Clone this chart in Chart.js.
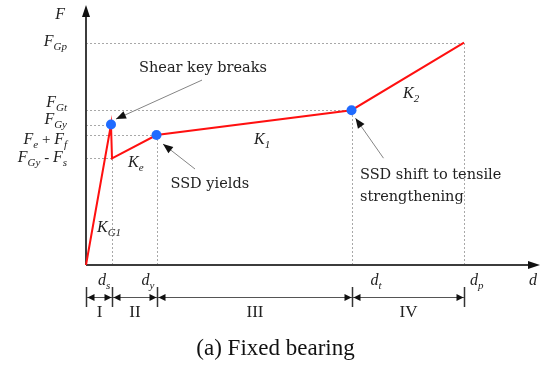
<!DOCTYPE html>
<html>
<head>
<meta charset="utf-8">
<script src="https://cdn.jsdelivr.net/npm/chart.js@4/dist/chart.umd.min.js"></script>
<style>
  html, body { margin: 0; padding: 0; background: #fff; }
  #wrap { width: 545px; height: 369px; position: relative; }
</style>
</head>
<body>
<div id="wrap"><canvas id="c"></canvas></div>
<script>
// Force–displacement path of the fixed bearing (schematic units)
const displacement = [0, 25, 26, 70.5, 265.5, 378];
const force = [0, 141.5, 107.5, 131, 156, 224];
// Characteristic states marked with dots (indices into the path)
const keyPoints = [1, 3, 4];
// Force levels on the vertical axis and the path point each belongs to
const forceLabels = ['F_Gp', 'F_Gt', 'F_Gy', 'F_e + F_f', 'F_Gy - F_s'];
const forcePoint = [5, 4, 1, 3, 2];
// Displacement levels on the horizontal axis
const dispLabels = ['d_s', 'd_y', 'd_t', 'd_p'];
const dispPoint = [2, 3, 4, 5];
// Stages between successive displacement levels
const stageLabels = ['I', 'II', 'III', 'IV'];
// Stiffness of each branch (anchored at the branch start point)
const stiffLabels = ['K_G1', 'K_e', 'K_1', 'K_2'];
const stiffPoint = [0, 2, 3, 4];
// Notes on the key points
const noteLabels = [['Shear key breaks'], ['SSD yields'], ['SSD shift to tensile', 'strengthening']];
const axisNames = ['F', 'd'];
const caption = '(a) Fixed bearing';

// Pixel offsets for text placement
const LAYOUT = {
  forceRight: 67,
  forceShift: [3, -3, -1, 9, 4],
  axisTitleF: [65, 19],
  dispBase: 20,
  dispShift: [-14, -15, 19, 6],
  axisTitleD: [529, 285],
  stiffOffset: [[11, -33], [16, 8.5], [97.5, 9], [51.5, -12]],
  stageY: 32,
  stageTick: 10,
  stageBase: 51.5,
  notes: [
    { text: [92, -53], align: 'center', tail: [91, -44.5], tip: [5, -5.5] },
    { text: [14, 52.5], align: 'left', tail: [38.5, 34], tip: [6.5, 9] },
    { text: [8.5, 69], align: 'left', tail: [32, 48], tip: [4, 8] }
  ],
  lineGap: 22,
  caption: [275.5, 355]
};

const SERIF = '"Liberation Serif", "Times New Roman", serif';
const NOTE_FONT = '14.5px "DejaVu Serif", serif';
const AXIS_COLOR = '#3c3c3c';

function parseLabel(label) {
  const out = [];
  const re = /([A-Za-z])_([A-Za-z0-9]+)/g;
  let last = 0, m;
  const plain = (t) => out.push({ t, k: /[A-Za-z]/.test(t) ? 'main' : 'op' });
  while ((m = re.exec(label))) {
    if (m.index > last) plain(label.slice(last, m.index));
    out.push({ t: m[1], k: 'main' });
    out.push({ t: m[2], k: 'sub' });
    last = re.lastIndex;
  }
  if (last < label.length) plain(label.slice(last));
  return out;
}

const FONTS = {
  main: 'italic 16px ' + SERIF,
  sub: 'italic 11px ' + SERIF,
  op: '15px ' + SERIF
};

function drawMath(ctx, label, x, y, align) {
  const parts = parseLabel(label);
  let w = 0;
  parts.forEach(p => { ctx.font = FONTS[p.k]; p.w = ctx.measureText(p.t).width; w += p.w; });
  let cx = align === 'right' ? x - w : align === 'center' ? x - w / 2 : x;
  ctx.textAlign = 'left';
  ctx.textBaseline = 'alphabetic';
  ctx.fillStyle = '#222';
  parts.forEach(p => {
    ctx.font = FONTS[p.k];
    ctx.fillText(p.t, cx, y + (p.k === 'sub' ? 4 : 0));
    cx += p.w;
  });
}

function arrowHead(ctx, tx, ty, fx, fy, len, half, color) {
  const a = Math.atan2(ty - fy, tx - fx);
  ctx.save();
  ctx.fillStyle = color;
  ctx.beginPath();
  ctx.moveTo(tx, ty);
  ctx.lineTo(tx - len * Math.cos(a) + half * Math.sin(a), ty - len * Math.sin(a) - half * Math.cos(a));
  ctx.lineTo(tx - len * Math.cos(a) - half * Math.sin(a), ty - len * Math.sin(a) + half * Math.cos(a));
  ctx.closePath();
  ctx.fill();
  ctx.restore();
}

const diagram = {
  id: 'diagram',
  beforeDatasetsDraw(chart) {
    const { ctx, chartArea: ca, scales: { x, y } } = chart;
    const px = i => x.getPixelForValue(displacement[i]);
    const py = i => y.getPixelForValue(force[i]);
    const x0 = x.getPixelForValue(0), y0 = y.getPixelForValue(0);
    ctx.save();
    // dotted guide lines
    ctx.strokeStyle = '#a8a8a8';
    ctx.lineWidth = 1;
    ctx.setLineDash([2, 2]);
    forcePoint.forEach(i => {
      ctx.beginPath();
      ctx.moveTo(x0, Math.round(py(i)) + 0.5);
      ctx.lineTo(px(i), Math.round(py(i)) + 0.5);
      ctx.stroke();
    });
    dispPoint.forEach(i => {
      ctx.beginPath();
      ctx.moveTo(Math.round(px(i)) + 0.5, y0);
      ctx.lineTo(Math.round(px(i)) + 0.5, py(i));
      ctx.stroke();
    });
    ctx.setLineDash([]);
    // axes with arrows
    ctx.strokeStyle = AXIS_COLOR;
    ctx.lineWidth = 2;
    ctx.beginPath();
    ctx.moveTo(x0, y0);
    ctx.lineTo(x0, ca.top + 8);
    ctx.moveTo(x0, y0);
    ctx.lineTo(ca.right - 8, y0);
    ctx.stroke();
    arrowHead(ctx, x0, ca.top, x0, y0, 12, 4, '#111');
    arrowHead(ctx, ca.right, y0, x0, y0, 12, 4, '#111');
    ctx.restore();
  },
  afterDatasetsDraw(chart) {
    const { ctx, scales: { x, y } } = chart;
    const px = i => x.getPixelForValue(displacement[i]);
    const py = i => y.getPixelForValue(force[i]);
    const x0 = x.getPixelForValue(0), y0 = y.getPixelForValue(0);
    ctx.save();

    // axis titles
    drawMath(ctx, axisNames[0], LAYOUT.axisTitleF[0], LAYOUT.axisTitleF[1], 'right');
    drawMath(ctx, axisNames[1], LAYOUT.axisTitleD[0], LAYOUT.axisTitleD[1], 'left');

    // force level labels
    forceLabels.forEach((lab, k) => {
      drawMath(ctx, lab, LAYOUT.forceRight, py(forcePoint[k]) + LAYOUT.forceShift[k], 'right');
    });
    // displacement level labels
    dispLabels.forEach((lab, k) => {
      drawMath(ctx, lab, px(dispPoint[k]) + LAYOUT.dispShift[k], y0 + LAYOUT.dispBase, 'left');
    });
    // stiffness labels
    stiffLabels.forEach((lab, k) => {
      const o = LAYOUT.stiffOffset[k];
      drawMath(ctx, lab, px(stiffPoint[k]) + o[0], py(stiffPoint[k]) + o[1], 'left');
    });

    // notes with arrows
    noteLabels.forEach((lines, k) => {
      const i = keyPoints[k];
      const L = LAYOUT.notes[k];
      const bx = px(i), by = py(i);
      ctx.font = NOTE_FONT;
      ctx.fillStyle = '#222';
      ctx.textAlign = L.align;
      ctx.textBaseline = 'alphabetic';
      lines.forEach((t, j) => ctx.fillText(t, bx + L.text[0], by + L.text[1] + j * LAYOUT.lineGap));
      const tx = bx + L.tip[0], ty = by + L.tip[1];
      const fx = bx + L.tail[0], fy = by + L.tail[1];
      ctx.strokeStyle = '#858585';
      ctx.lineWidth = 1;
      ctx.beginPath();
      ctx.moveTo(fx, fy);
      ctx.lineTo(tx, ty);
      ctx.stroke();
      arrowHead(ctx, tx, ty, fx, fy, 10, 4, '#111');
    });

    // stage dimension line
    const bounds = [x0].concat(dispPoint.map(px));
    const sy = y0 + LAYOUT.stageY;
    ctx.strokeStyle = '#555';
    ctx.lineWidth = 1;
    ctx.beginPath();
    ctx.moveTo(bounds[0], Math.round(sy) + 0.5);
    ctx.lineTo(bounds[bounds.length - 1], Math.round(sy) + 0.5);
    ctx.stroke();
    ctx.strokeStyle = '#333';
    ctx.lineWidth = 1.5;
    bounds.forEach(b => {
      ctx.beginPath();
      ctx.moveTo(Math.round(b) + 0.5, sy - LAYOUT.stageTick);
      ctx.lineTo(Math.round(b) + 0.5, sy + LAYOUT.stageTick);
      ctx.stroke();
    });
    for (let k = 0; k < bounds.length - 1; k++) {
      const a = Math.round(bounds[k]) + 0.5, b = Math.round(bounds[k + 1]) + 0.5;
      arrowHead(ctx, a + 1, sy + 0.5, b, sy + 0.5, 7, 3.5, '#111');
      arrowHead(ctx, b - 1, sy + 0.5, a, sy + 0.5, 7, 3.5, '#111');
      ctx.font = '17px ' + SERIF;
      ctx.fillStyle = '#222';
      ctx.textAlign = 'center';
      ctx.fillText(stageLabels[k], (a + b) / 2, y0 + LAYOUT.stageBase);
    }

    // caption
    ctx.font = '23px ' + SERIF;
    ctx.fillStyle = '#111';
    ctx.textAlign = 'center';
    ctx.fillText(caption, LAYOUT.caption[0], LAYOUT.caption[1]);
    ctx.restore();
  }
};

new Chart(document.getElementById('c'), {
  type: 'line',
  data: {
    datasets: [
      {
        label: 'key states',
        data: keyPoints.map(i => ({ x: displacement[i], y: force[i] })),
        showLine: false,
        pointRadius: 5,
        pointBackgroundColor: '#1f6bff',
        pointBorderWidth: 0,
        order: 0,
        clip: false
      },
      {
        label: 'F–d path',
        data: displacement.map((d, i) => ({ x: d, y: force[i] })),
        borderColor: '#ff1010',
        borderWidth: 2,
        pointRadius: 0,
        tension: 0,
        fill: false,
        order: 1,
        clip: false
      }
    ]
  },
  options: {
    responsive: true,
    maintainAspectRatio: false,
    animation: false,
    events: [],
    layout: { padding: { left: 86, right: 5, top: 3, bottom: 104 } },
    scales: {
      x: { type: 'linear', min: 0, max: 454, display: false },
      y: { type: 'linear', min: 0, max: 262, display: false }
    },
    plugins: { legend: { display: false }, tooltip: { enabled: false } }
  },
  plugins: [diagram]
});
</script>
</body>
</html>
